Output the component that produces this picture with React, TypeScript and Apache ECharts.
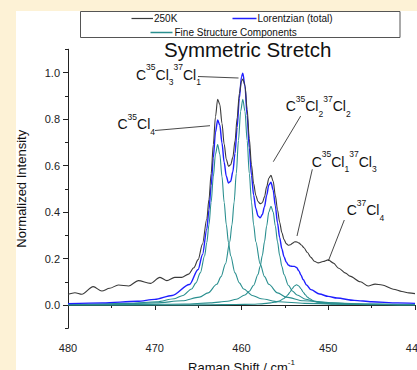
import React, { useEffect, useRef } from "react";
import * as echarts from "echarts";

// ---- data ----
const xTickValues = [440, 450, 460, 470, 480];
const yTickValues = [0, 0.2, 0.4, 0.6, 0.8, 1.0];
const yMinorTickValues = [-0.1, 0.1, 0.3, 0.5, 0.7, 0.9, 1.1];

const seriesNames = ["250K", "Lorentzian (total)", "Fine Structure Components"];

// measured spectrum at 250 K
const blackShift = [480, 479.2, 478.4, 477.1, 476.1, 475.2, 474.2, 473.0, 471.9, 470.5, 469.4, 468.6, 467.7, 466.9, 466.1, 465.5, 465, 464.5, 464, 463.75, 463.5, 463.25, 463, 462.75, 462.5, 462.25, 462, 461.75, 461.5, 461.25, 461, 460.75, 460.5, 460.25, 460, 459.85, 459.6, 459.35, 459.1, 458.85, 458.6, 458.35, 458.1, 457.85, 457.6, 457.35, 457.1, 456.85, 456.6, 456.35, 456.1, 455.85, 455.6, 455.35, 455.1, 454.85, 454.6, 454.35, 454.1, 453.85, 453.6, 453.35, 453.1, 452.8, 452.4, 452, 451.6, 451.15, 450.6, 450, 449.4, 448.8, 448, 447.5, 446.3, 445.4, 444.6, 443.8, 442.5, 441.5, 440.7, 440];
const blackValues = [0.046, 0.053, 0.046, 0.079, 0.060, 0.072, 0.086, 0.082, 0.105, 0.093, 0.119, 0.105, 0.119, 0.119, 0.133, 0.160, 0.195, 0.262, 0.370, 0.455, 0.565, 0.690, 0.810, 0.885, 0.862, 0.782, 0.692, 0.627, 0.597, 0.603, 0.635, 0.705, 0.805, 0.910, 0.962, 0.972, 0.945, 0.842, 0.715, 0.603, 0.522, 0.472, 0.445, 0.436, 0.440, 0.465, 0.508, 0.545, 0.558, 0.532, 0.472, 0.410, 0.356, 0.312, 0.282, 0.264, 0.257, 0.259, 0.266, 0.272, 0.271, 0.266, 0.258, 0.246, 0.226, 0.205, 0.188, 0.181, 0.187, 0.194, 0.180, 0.158, 0.137, 0.124, 0.100, 0.082, 0.090, 0.086, 0.068, 0.058, 0.052, 0.049];

// Lorentzian total fit
const blueShift = [480, 476, 472, 470, 468, 466, 465, 464.5, 464, 463.75, 463.5, 463.25, 463, 462.75, 462.5, 462.25, 462, 461.75, 461.5, 461.25, 461, 460.75, 460.5, 460.25, 460, 459.85, 459.6, 459.35, 459.1, 458.85, 458.6, 458.35, 458.1, 457.85, 457.6, 457.35, 457.1, 456.85, 456.6, 456.35, 456.1, 455.85, 455.6, 455.35, 455.1, 454.85, 454.6, 454.35, 454.1, 453.9, 453.65, 453.4, 453.15, 452.9, 452.5, 452, 451, 450, 449, 447, 445, 442, 440];
const blueValues = [0.006, 0.009, 0.016, 0.024, 0.041, 0.088, 0.153, 0.216, 0.326, 0.409, 0.513, 0.633, 0.742, 0.796, 0.773, 0.697, 0.614, 0.554, 0.525, 0.532, 0.573, 0.652, 0.764, 0.890, 0.982, 0.997, 0.941, 0.815, 0.676, 0.558, 0.472, 0.415, 0.383, 0.375, 0.389, 0.423, 0.471, 0.516, 0.528, 0.494, 0.426, 0.353, 0.290, 0.242, 0.208, 0.185, 0.172, 0.167, 0.166, 0.166, 0.161, 0.148, 0.129, 0.110, 0.086, 0.066, 0.047, 0.037, 0.030, 0.020, 0.014, 0.009, 0.007];

// fine structure components
const comp1Shift = [480, 477.75, 472.75, 469.75, 467.75, 466.75, 465.75, 465.25, 464.75, 464.25, 464, 463.75, 463.5, 463.25, 463, 462.75, 462.5, 462.25, 462, 461.75, 461.5, 461.25, 460.75, 460.25, 459.75, 458.75, 457.75, 455.75, 452.75, 447.75, 442.75, 440];
const comp1Values = [0.002, 0.003, 0.007, 0.014, 0.027, 0.041, 0.069, 0.095, 0.138, 0.212, 0.269, 0.345, 0.442, 0.552, 0.649, 0.690, 0.649, 0.552, 0.442, 0.345, 0.269, 0.212, 0.138, 0.095, 0.069, 0.041, 0.027, 0.014, 0.007, 0.003, 0.002, 0.001];
const comp2Shift = [480, 474.85, 469.85, 466.85, 464.85, 463.85, 462.85, 462.35, 461.85, 461.35, 461.1, 460.85, 460.6, 460.35, 460.1, 459.85, 459.6, 459.35, 459.1, 458.85, 458.6, 458.35, 457.85, 457.35, 456.85, 455.85, 454.85, 452.85, 449.85, 444.85, 440];
const comp2Values = [0.002, 0.004, 0.009, 0.018, 0.034, 0.052, 0.089, 0.122, 0.177, 0.272, 0.345, 0.443, 0.566, 0.708, 0.833, 0.885, 0.833, 0.708, 0.566, 0.443, 0.345, 0.272, 0.177, 0.122, 0.089, 0.052, 0.034, 0.018, 0.009, 0.004, 0.002];
const comp3Shift = [480, 476.6, 471.6, 466.6, 463.6, 461.6, 460.6, 459.6, 459.1, 458.6, 458.1, 457.85, 457.6, 457.35, 457.1, 456.85, 456.6, 456.35, 456.1, 455.85, 455.6, 455.35, 455.1, 454.6, 454.1, 453.6, 452.6, 451.6, 449.6, 446.6, 441.6, 440];
const comp3Values = [0.001, 0.001, 0.002, 0.004, 0.009, 0.016, 0.025, 0.043, 0.059, 0.085, 0.131, 0.166, 0.213, 0.272, 0.340, 0.400, 0.425, 0.400, 0.340, 0.272, 0.213, 0.166, 0.131, 0.085, 0.059, 0.043, 0.025, 0.016, 0.009, 0.004, 0.002, 0.002];
const comp4Shift = [480, 473.65, 468.65, 463.65, 460.65, 458.65, 457.65, 456.65, 456.15, 455.65, 455.15, 454.9, 454.65, 454.4, 454.15, 453.9, 453.65, 453.4, 453.15, 452.9, 452.65, 452.4, 452.15, 451.65, 451.15, 450.65, 449.65, 448.65, 446.65, 443.65, 440];
const comp4Values = [0.000, 0.000, 0.000, 0.001, 0.002, 0.003, 0.005, 0.009, 0.012, 0.017, 0.027, 0.034, 0.044, 0.056, 0.070, 0.082, 0.087, 0.082, 0.070, 0.056, 0.044, 0.034, 0.027, 0.017, 0.012, 0.009, 0.005, 0.003, 0.002, 0.001, 0.000];

// isotopologue labels
const isoLabels = [
  "{b|C}{sup|35}{b|Cl}{sub|3}{sup|37}{b|Cl}{sub|1}",
  "{b|C}{sup|35}{b|Cl}{sub|4}",
  "{b|C}{sup|35}{b|Cl}{sub|2}{sup|37}{b|Cl}{sub|2}",
  "{b|C}{sup|35}{b|Cl}{sub|1}{sup|37}{b|Cl}{sub|3}",
  "{b|C}{sup|37}{b|Cl}{sub|4}",
];

const FF = '"Liberation Sans", Arial, Helvetica, sans-serif';
const BLACK = "#3a3a3a";
const BLUE = "#1f1fff";
const TEAL = "#2a8f8f";
const CREAM = "#fdf2d6";

const zip = (xs: number[], ys: number[]) => xs.map((x, i) => [x, ys[i]]);

const richIso = {
  b: { fontSize: 14, lineHeight: 24, verticalAlign: "middle", fontFamily: FF, color: "#111" },
  sup: { fontSize: 8.5, lineHeight: 17, verticalAlign: "top", fontFamily: FF, color: "#111" },
  sub: { fontSize: 8.5, lineHeight: 9, verticalAlign: "bottom", fontFamily: FF, color: "#111" },
};

function isoText(text: string, x: number, y: number) {
  return {
    type: "text",
    x,
    y,
    style: { text, rich: richIso, align: "left", verticalAlign: "middle", fill: "#111" },
    z: 50,
  };
}
function leader(x1: number, y1: number, x2: number, y2: number) {
  return {
    type: "line",
    shape: { x1, y1, x2, y2 },
    style: { stroke: "#333", lineWidth: 0.9 },
    z: 50,
  };
}

export default function App() {
  const ref = useRef<HTMLDivElement>(null);
  useEffect(() => {
    const chart = echarts.init(ref.current!, null, { renderer: "svg" });
    const lineBase = {
      type: "line",
      showSymbol: false,
      symbol: "none",
      smooth: 0.3,
      smoothMonotone: "x",
      xAxisIndex: 0,
      yAxisIndex: 0,
    };
    const option: any = {
      animation: false,
      backgroundColor: "#ffffff",
      textStyle: { fontFamily: FF },
      title: {
        text: "Symmetric Stretch",
        left: 164,
        top: 39,
        padding: 0,
        textStyle: { fontSize: 20.5, fontWeight: "normal", color: "#111", fontFamily: FF },
      },
      grid: { left: 68, right: 2, top: 49.25, bottom: 41.75, containLabel: false, outerBoundsMode: "none" },
      xAxis: {
        type: "value",
        min: xTickValues[0],
        max: xTickValues[xTickValues.length - 1],
        interval: 10,
        inverse: true,
        axisLine: { show: true, lineStyle: { color: "#222", width: 1 } },
        axisTick: { show: true, inside: false, length: 5, lineStyle: { color: "#222" } },
        minorTick: { show: true, splitNumber: 2, length: 3, lineStyle: { color: "#222" } },
        splitLine: { show: false },
        axisLabel: { fontSize: 11, color: "#222", margin: 14, fontFamily: FF, hideOverlap: false },
        name: "{n|Raman Shift / cm}{s|-1}",
        nameLocation: "middle",
        nameGap: 27,
        nameTextStyle: {
          rich: {
            n: { fontSize: 13, lineHeight: 18, verticalAlign: "middle", color: "#111", fontFamily: FF },
            s: { fontSize: 8, lineHeight: 12, verticalAlign: "top", color: "#111", fontFamily: FF },
          },
        },
      },
      yAxis: [
        {
          type: "value",
          min: -0.1,
          max: 1.1,
          position: "left",
          axisLine: { show: true, lineStyle: { color: "#222", width: 1 } },
          axisTick: { show: true, inside: false, length: 5, customValues: yTickValues, lineStyle: { color: "#222" } },
          axisLabel: {
            customValues: yTickValues,
            formatter: (v: number) => Number(v).toFixed(1),
            fontSize: 11,
            color: "#222",
            margin: 8,
            fontFamily: FF,
          },
          splitLine: { show: false },
          name: "Normalized Intensity",
          nameLocation: "middle",
          nameGap: 40,
          nameTextStyle: { fontSize: 13, color: "#111", fontFamily: FF },
        },
        {
          type: "value",
          min: -0.1,
          max: 1.1,
          position: "left",
          axisLine: { show: false },
          axisTick: { show: true, inside: false, length: 3, customValues: yMinorTickValues, lineStyle: { color: "#222" } },
          axisLabel: { show: false },
          splitLine: { show: false },
        },
      ],
      series: [
        { ...lineBase, name: seriesNames[2], data: zip(comp1Shift, comp1Values), lineStyle: { color: TEAL, width: 1.1 }, itemStyle: { color: TEAL }, z: 2 },
        { ...lineBase, name: seriesNames[2] + " 2", data: zip(comp2Shift, comp2Values), lineStyle: { color: TEAL, width: 1.1 }, itemStyle: { color: TEAL }, z: 2 },
        { ...lineBase, name: seriesNames[2] + " 3", data: zip(comp3Shift, comp3Values), lineStyle: { color: TEAL, width: 1.1 }, itemStyle: { color: TEAL }, z: 2 },
        { ...lineBase, name: seriesNames[2] + " 4", data: zip(comp4Shift, comp4Values), lineStyle: { color: TEAL, width: 1.1 }, itemStyle: { color: TEAL }, z: 2 },
        { ...lineBase, name: seriesNames[1], data: zip(blueShift, blueValues), lineStyle: { color: BLUE, width: 1.4 }, itemStyle: { color: BLUE }, z: 3 },
        { ...lineBase, name: seriesNames[0], data: zip(blackShift, blackValues), lineStyle: { color: BLACK, width: 1.1 }, itemStyle: { color: BLACK }, z: 4 },
      ],
      graphic: [
        { type: "rect", shape: { x: 0, y: 0, width: 417, height: 11 }, style: { fill: CREAM }, z: 100 },
        { type: "rect", shape: { x: 0, y: 0, width: 16, height: 370 }, style: { fill: CREAM }, z: 100 },
        // legend box
        { type: "rect", shape: { x: 80.5, y: 11.5, width: 319.5, height: 26 }, style: { fill: "#fff", stroke: "#555", lineWidth: 1 }, z: 60 },
        { type: "line", shape: { x1: 131.5, y1: 18.5, x2: 153, y2: 18.5 }, style: { stroke: BLACK, lineWidth: 1.2 }, z: 61 },
        { type: "text", x: 154, y: 18.5, style: { text: seriesNames[0], fontSize: 10, fontFamily: FF, fill: "#111", verticalAlign: "middle", align: "left" }, z: 61 },
        { type: "line", shape: { x1: 232.5, y1: 18.5, x2: 256.5, y2: 18.5 }, style: { stroke: BLUE, lineWidth: 1.5 }, z: 61 },
        { type: "text", x: 257.5, y: 18.5, style: { text: seriesNames[1], fontSize: 10, fontFamily: FF, fill: "#111", verticalAlign: "middle", align: "left" }, z: 61 },
        { type: "line", shape: { x1: 150.5, y1: 32.5, x2: 172.5, y2: 32.5 }, style: { stroke: TEAL, lineWidth: 1.5 }, z: 61 },
        { type: "text", x: 174.5, y: 32.5, style: { text: seriesNames[2], fontSize: 10, fontFamily: FF, fill: "#111", verticalAlign: "middle", align: "left" }, z: 61 },
        // isotopologue annotations
        isoText(isoLabels[0], 136, 74.5),
        leader(198, 76.5, 238.5, 78),
        isoText(isoLabels[1], 117.5, 124.3),
        leader(155, 130.5, 210, 125.7),
        isoText(isoLabels[2], 285.7, 106),
        leader(300.7, 116, 273.3, 161.7),
        isoText(isoLabels[3], 311.7, 161.7),
        leader(312.3, 169.3, 297, 236),
        isoText(isoLabels[4], 346.7, 210),
        leader(344.3, 220, 328.3, 261),
      ],
    };
    chart.setOption(option);
    return () => chart.dispose();
  }, []);
  return (
    <div
      ref={ref}
      style={{ position: "fixed", left: 0, top: 0, width: 417, height: 370, background: "#fff" }}
    />
  );
}
